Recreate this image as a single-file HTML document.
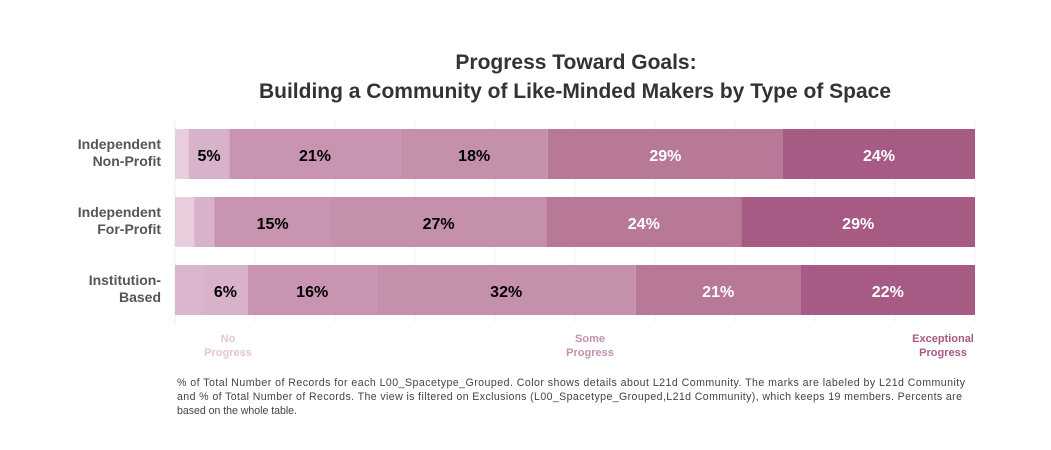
<!DOCTYPE html>
<html><head><meta charset="utf-8"><style>
body{margin:0;background:#fff;}
svg{display:block;font-family:"Liberation Sans",sans-serif;}
</style></head><body>
<svg id="chart" width="1051" height="450">
<g fill="#333" font-weight="bold" font-size="21" text-anchor="middle">
<text x="576" y="69">Progress Toward Goals:</text>
<text x="575" y="98">Building a Community of Like-Minded Makers by Type of Space</text>
</g>
<g id="grid"></g>
<g id="bars"></g>
<g id="ylabels"></g>
<g font-weight="bold" font-size="11" text-anchor="middle">
<text x="228" y="342" fill="#e6c4d8"><tspan x="228">No</tspan><tspan x="228" dy="14">Progress</tspan></text>
<text x="590" y="342" fill="#c590b0"><tspan x="590">Some</tspan><tspan x="590" dy="14">Progress</tspan></text>
<text x="943" y="342" fill="#a65a84"><tspan x="943">Exceptional</tspan><tspan x="943" dy="14">Progress</tspan></text>
</g>
<g fill="#444" font-size="10.6">
<text x="177" y="386" textLength="788">% of Total Number of Records for each L00_Spacetype_Grouped. Color shows details about L21d Community. The marks are labeled by L21d Community</text>
<text x="177" y="400" textLength="785">and % of Total Number of Records. The view is filtered on Exclusions (L00_Spacetype_Grouped,L21d Community), which keeps 19 members. Percents are</text>
<text x="177" y="414" textLength="120">based on the whole table.</text>
</g>
</svg>
<script>
const categories = ["Independent|Non-Profit", "Independent|For-Profit", "Institution-|Based"];
const level1 = [1.7, 2.4, 3.5];
const level2 = [5.1, 2.5, 5.6];
const level3 = [21.4, 14.6, 16.1];
const level4 = [18.4, 26.9, 32.4];
const level5 = [29.4, 24.4, 20.6];
const level6 = [24.0, 29.2, 21.8];
const xTicks = [0,10,20,30,40,50,60,70,80,90,100];

const series = [level1, level2, level3, level4, level5, level6];
const colors = ["#e8cedc", "#d8b2cb", "#c994b1", "#c490ac", "#b87898", "#a65a84"];
const textColors = ["#000", "#000", "#000", "#000", "#fff", "#fff"];
const NS = "http://www.w3.org/2000/svg";
const x0 = 175, x1 = 975;
const xScale = v => x0 + (x1 - x0) * v / 100;
const rowTop = i => 129 + i * 68;
const barH = 50;

const grid = document.getElementById('grid');
xTicks.forEach(t => {
  const l = document.createElementNS(NS, 'line');
  
  
  l.setAttribute('x1', xScale(t)); l.setAttribute('x2', xScale(t));
  l.setAttribute('y1', 120); l.setAttribute('y2', 323);
  l.setAttribute('stroke', t === 0 ? '#ddd' : '#f0f0f0');
  if (t === 0) l.setAttribute('stroke-dasharray', '1,1');
  grid.appendChild(l);
});

const bars = document.getElementById('bars');
const yl = document.getElementById('ylabels');
categories.forEach((c, i) => {
  let acc = 0;
  series.forEach((s, k) => {
    const v = s[i];
    const r = document.createElementNS(NS, 'rect');
    
    
    r.setAttribute('x', xScale(acc)); r.setAttribute('y', rowTop(i));
    r.setAttribute('width', xScale(acc + v) - xScale(acc)); r.setAttribute('height', barH);
    r.setAttribute('fill', (i === 2 && k === 0) ? '#d9b5ce' : colors[k]);
    bars.appendChild(r);
    if (v >= 4.5) {
      const t = document.createElementNS(NS, 'text');
      
      
      t.setAttribute('x', (xScale(acc) + xScale(acc + v)) / 2);
      t.setAttribute('y', rowTop(i) + 32);
      t.setAttribute('text-anchor', 'middle');
      t.setAttribute('font-size', '16'); t.setAttribute('font-weight', 'bold');
      t.setAttribute('fill', textColors[k]);
      t.textContent = Math.round(v) + '%';
      bars.appendChild(t);
    }
    acc += v;
  });
  const parts = c.split('|');
  const t = document.createElementNS(NS, 'text');
  
  
  t.setAttribute('text-anchor', 'end'); t.setAttribute('font-size', '14');
  t.setAttribute('font-weight', 'bold'); t.setAttribute('fill', '#555');
  parts.forEach((p, j) => {
    const ts = document.createElementNS(NS, 'tspan');
    ts.setAttribute('x', 161);
    ts.setAttribute('y', rowTop(i) + 20 + j * 17);
    ts.textContent = p;
    t.appendChild(ts);
  });
  yl.appendChild(t);
});
</script>
</body></html>
